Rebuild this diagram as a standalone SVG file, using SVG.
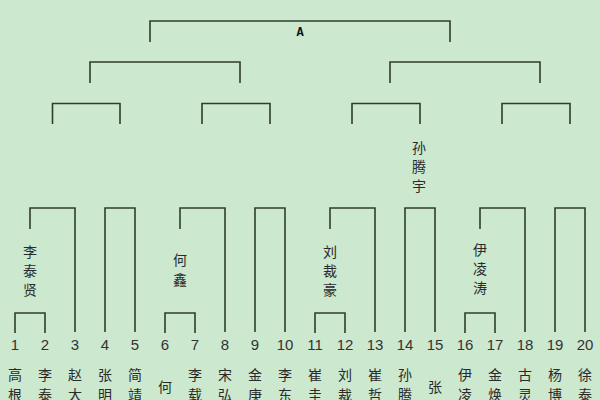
<svg xmlns="http://www.w3.org/2000/svg" width="600" height="400" viewBox="0 0 600 400">
<style>
.c{fill:none;stroke:#2f3d2f;stroke-width:1.6}
.n{font-family:"Liberation Sans","Noto Sans CJK SC",sans-serif;font-size:15px;fill:#333;text-anchor:middle}
.t{font-family:"Noto Sans CJK SC",sans-serif;font-size:14px;fill:#2a2a2a;text-anchor:middle}
.a{font-family:"Liberation Mono",monospace;font-size:12px;font-weight:bold;fill:#111;text-anchor:middle}
</style>
<rect width="600" height="400" fill="#CCE8CF"/>
<g id="connectors" class="c">
<path d="M150,42V21H450V42"/>
<path d="M90,83V62H240V83"/>
<path d="M390,83V62H540V83"/>
<path d="M52.5,124V103.5H120V124"/>
<path d="M202,124V103.5H270V124"/>
<path d="M352,124V103.5H420V124"/>
<path d="M502,124V103.5H570V124"/>
<path d="M30,229V208H75V332"/>
<path d="M105,332V208H135V332"/>
<path d="M180,229V208H225V332"/>
<path d="M255,332V208H285V332"/>
<path d="M330,229V208H375V332"/>
<path d="M405,332V208H435V332"/>
<path d="M480,229V208H525V332"/>
<path d="M555,332V208H585V332"/>
<path d="M15,333V313H45V333"/>
<path d="M165,333V313H195V333"/>
<path d="M315,333V313H345V333"/>
<path d="M465,333V313H495V333"/>
</g>
<g id="final"><text class="a" x="300" y="36">A</text></g>
<g id="w2"><text class="t" x="30"><tspan x="30" y="257">李</tspan><tspan x="30" y="276">泰</tspan><tspan x="30" y="295">贤</tspan></text></g>
<g id="w6"><text class="t"><tspan x="180" y="265">何</tspan><tspan x="180" y="285">鑫</tspan></text></g>
<g id="w12"><text class="t"><tspan x="330" y="257">刘</tspan><tspan x="330" y="276">裁</tspan><tspan x="330" y="295">豪</tspan></text></g>
<g id="w14"><text class="t"><tspan x="419" y="153">孙</tspan><tspan x="419" y="172">腾</tspan><tspan x="419" y="191">宇</tspan></text></g>
<g id="w16"><text class="t"><tspan x="480" y="255">伊</tspan><tspan x="480" y="274">凌</tspan><tspan x="480" y="293">涛</tspan></text></g>
<g id="p1"><text class="n" x="15" y="350">1</text><text class="t"><tspan x="15" y="380">高</tspan><tspan x="15" y="400">根</tspan></text></g>
<g id="p2"><text class="n" x="45" y="350">2</text><text class="t"><tspan x="45" y="380">李</tspan><tspan x="45" y="400">泰</tspan><tspan x="45" y="420">贤</tspan></text></g>
<g id="p3"><text class="n" x="75" y="350">3</text><text class="t"><tspan x="75" y="380">赵</tspan><tspan x="75" y="400">大</tspan></text></g>
<g id="p4"><text class="n" x="105" y="350">4</text><text class="t"><tspan x="105" y="380">张</tspan><tspan x="105" y="400">明</tspan></text></g>
<g id="p5"><text class="n" x="135" y="350">5</text><text class="t"><tspan x="135" y="380">简</tspan><tspan x="135" y="400">靖</tspan></text></g>
<g id="p6"><text class="n" x="165" y="350">6</text><text class="t"><tspan x="165" y="392">何</tspan><tspan x="165" y="412">鑫</tspan></text></g>
<g id="p7"><text class="n" x="195" y="350">7</text><text class="t"><tspan x="195" y="380">李</tspan><tspan x="195" y="400">载</tspan></text></g>
<g id="p8"><text class="n" x="225" y="350">8</text><text class="t"><tspan x="225" y="380">宋</tspan><tspan x="225" y="400">弘</tspan></text></g>
<g id="p9"><text class="n" x="255" y="350">9</text><text class="t"><tspan x="255" y="380">金</tspan><tspan x="255" y="400">庚</tspan></text></g>
<g id="p10"><text class="n" x="285" y="350">10</text><text class="t"><tspan x="285" y="380">李</tspan><tspan x="285" y="400">东</tspan></text></g>
<g id="p11"><text class="n" x="315" y="350">11</text><text class="t"><tspan x="315" y="380">崔</tspan><tspan x="315" y="400">圭</tspan></text></g>
<g id="p12"><text class="n" x="345" y="350">12</text><text class="t"><tspan x="345" y="380">刘</tspan><tspan x="345" y="400">裁</tspan><tspan x="345" y="420">豪</tspan></text></g>
<g id="p13"><text class="n" x="375" y="350">13</text><text class="t"><tspan x="375" y="380">崔</tspan><tspan x="375" y="400">哲</tspan></text></g>
<g id="p14"><text class="n" x="405" y="350">14</text><text class="t"><tspan x="405" y="380">孙</tspan><tspan x="405" y="400">腾</tspan><tspan x="405" y="420">宇</tspan></text></g>
<g id="p15"><text class="n" x="435" y="350">15</text><text class="t"><tspan x="435" y="392">张</tspan></text></g>
<g id="p16"><text class="n" x="465" y="350">16</text><text class="t"><tspan x="465" y="380">伊</tspan><tspan x="465" y="400">凌</tspan><tspan x="465" y="420">涛</tspan></text></g>
<g id="p17"><text class="n" x="495" y="350">17</text><text class="t"><tspan x="495" y="380">金</tspan><tspan x="495" y="400">焕</tspan></text></g>
<g id="p18"><text class="n" x="525" y="350">18</text><text class="t"><tspan x="525" y="380">古</tspan><tspan x="525" y="400">灵</tspan></text></g>
<g id="p19"><text class="n" x="555" y="350">19</text><text class="t"><tspan x="555" y="380">杨</tspan><tspan x="555" y="400">博</tspan></text></g>
<g id="p20"><text class="n" x="585" y="350">20</text><text class="t"><tspan x="585" y="380">徐</tspan><tspan x="585" y="400">泰</tspan></text></g>
</svg>
